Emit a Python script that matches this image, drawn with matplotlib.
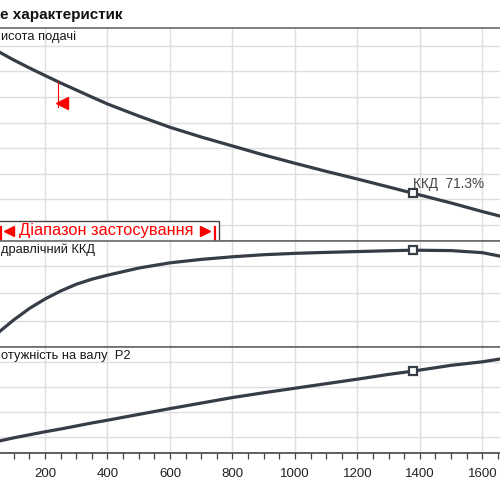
import matplotlib.pyplot as plt
from matplotlib.patches import Rectangle
from matplotlib.ticker import MultipleLocator

plt.rcParams['font.family'] = ['Liberation Sans', 'DejaVu Sans']

# flow values
flow = [0, 56, 100, 150, 200, 250, 300, 350, 400, 500, 600, 700, 800, 900,
        1000, 1100, 1200, 1300, 1378, 1500, 1600, 1656]
head = [16.2, 15.47, 14.88, 14.26, 13.67, 13.09, 12.54, 11.99, 11.45, 10.51,
        9.63, 8.87, 8.17, 7.47, 6.82, 6.19, 5.59, 4.97, 4.48, 3.72, 3.05, 2.7]
eff = [0.0, 12.4, 20.6, 28.9, 35.8, 41.6, 46.5, 50.2, 53.1, 58.3, 62.1,
       64.6, 66.5, 68.0, 69.0, 69.7, 70.3, 70.9, 71.3, 71.0, 69.5, 67.0]
power = [0.6, 0.86, 0.98, 1.1, 1.22, 1.33, 1.45, 1.57, 1.68, 1.91, 2.14,
         2.36, 2.58, 2.77, 2.95, 3.13, 3.31, 3.5, 3.63, 3.86, 4.0, 4.11]

op_q, op_h, op_eff, op_p = 1378, 4.48, 71.3, 3.63
range_start = 240
range_end = 744

head_grid = [2, 4, 6, 8, 10, 12, 14, 16]
eff_grid = [20, 40, 60]
power_grid = [1, 2, 3, 4]
xticks = [200, 400, 600, 800, 1000, 1200, 1400, 1600]

curve_col = '#363d47'
grid_col = '#dedede'
spine_col = '#6a6a6a'

fig = plt.figure(figsize=(5, 5), dpi=100)
ax_h = fig.add_axes([0, 0.5186, 1, 0.4254])
ax_e = fig.add_axes([0, 0.3066, 1, 0.2120], sharex=ax_h)
ax_p = fig.add_axes([0, 0.0934, 1, 0.2132], sharex=ax_h)

panels = [(ax_h, head, head_grid, (0.774, 17.38), op_h),
          (ax_e, eff, eff_grid, (1.1, 78.2), op_eff),
          (ax_p, power, power_grid, (0.365, 4.6), op_p)]

for ax, vals, grid, lim, op in panels:
    ax.plot(flow, vals, color=curve_col, lw=2.3, solid_capstyle='round',
            solid_joinstyle='round', zorder=3)
    ax.plot([op_q], [op], marker='s', ms=6, mfc='white', mec=curve_col,
            mew=1.6, zorder=4)
    ax.set_ylim(*lim)
    ax.set_yticks(grid)
    ax.set_xticks(xticks)
    ax.grid(True, color=grid_col, lw=1)
    ax.tick_params(axis='y', length=0, labelleft=False)
    ax.set_facecolor('white')
    for side in ['left', 'right']:
        ax.spines[side].set_visible(False)
    for side in ['top', 'bottom']:
        ax.spines[side].set_color(spine_col)
        ax.spines[side].set_linewidth(1.2)

ax_h.set_xlim(55.9, 1656.6)
ax_h.tick_params(axis='x', which='both', length=0, labelbottom=False)
ax_e.tick_params(axis='x', which='both', length=0, labelbottom=False)
ax_p.xaxis.set_minor_locator(MultipleLocator(50))
ax_p.tick_params(axis='x', which='both', direction='out', length=4,
                 width=0.9, color='#444444', labelsize=9.5,
                 labelcolor='#222222', pad=6.5)
ax_p.spines['bottom'].set_color('#444444')

# panel labels
lab = dict(fontsize=9.3, color='#1a1a1a', ha='left', va='center')
ax_h.text(0.002, 0.958, 'исота подачі', transform=ax_h.transAxes, **lab)
ax_e.text(0.002, 0.915, 'дравлічний ККД', transform=ax_e.transAxes, **lab)
ax_p.text(0.002, 0.915, 'отужність на валу  P2', transform=ax_p.transAxes, **lab)
fig.text(0.0, 0.969, 'е характеристик', fontsize=11, fontweight='bold',
         ha='left', va='center', color='#111111')

ax_h.annotate('ККД  71.3%', xy=(op_q, op_h), xytext=(0, 7),
              textcoords='offset points', ha='left', va='center',
              fontsize=9.8, color='#444444')

# operating range marker on the head curve
ax_h.plot([range_start, range_start], [11.21, 13.19], color='red', lw=0.8,
          zorder=4)
ax_h.plot([range_start + 15], [11.55], marker='<', ms=8, color='red',
          zorder=4)

# application range box
trans = ax_h.get_xaxis_transform()
ax_h.add_patch(Rectangle((0, 0.0), 757, 0.0926, transform=trans,
                         facecolor='white', edgecolor='#444444', lw=1,
                         zorder=5, clip_on=False))
ax_h.text(397, 0.046, 'Діапазон застосування', transform=trans,
          ha='center', va='center', color='red', fontsize=11.8, zorder=6)
ax_h.plot([84], [0.046], transform=trans, marker='<', ms=7.5, color='red',
          zorder=6)
ax_h.plot([712], [0.046], transform=trans, marker='>', ms=7.5, color='red',
          zorder=6)
for x in [59, range_end]:
    ax_h.plot([x, x], [0.004, 0.064], transform=trans, color='red', lw=1.6,
              zorder=6)

fig.savefig('out.png', dpi=100)
